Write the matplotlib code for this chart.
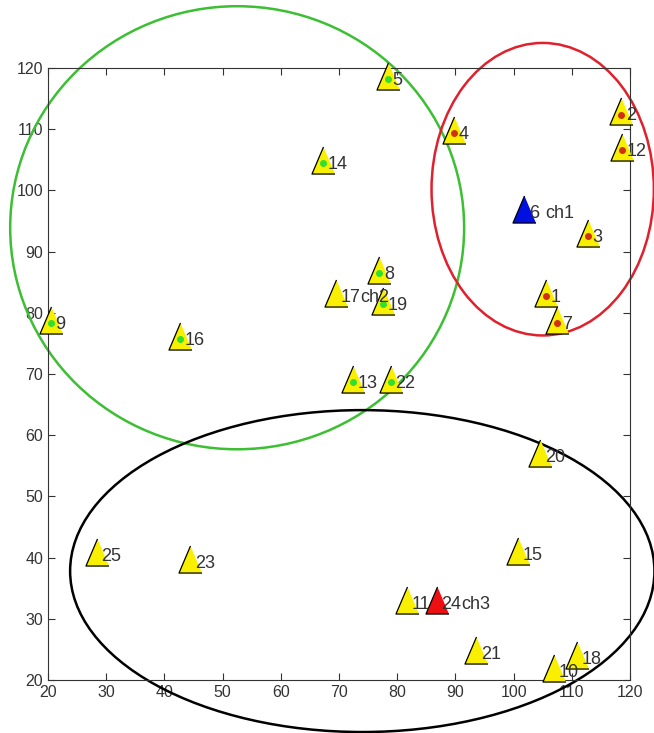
import numpy as np
import matplotlib
matplotlib.use("Agg")
import matplotlib.pyplot as plt
from matplotlib.patches import Ellipse

# node positions
node_id = list(range(1, 26))
node_x = [105.5, 118.5, 112.8, 89.8, 78.4, 101.8, 107.5, 76.9, 20.5, 107.0,
          81.6, 118.6, 72.4, 67.2, 100.8, 42.6, 69.5, 110.9, 77.6, 104.6,
          93.6, 78.9, 44.4, 86.8, 28.4]
node_y = [83.2, 112.9, 93.0, 109.9, 118.7, 97.0, 78.8, 87.0, 78.8, 22.0,
          33.1, 107.1, 69.2, 105.0, 41.1, 76.2, 83.2, 24.1, 81.9, 57.1,
          24.9, 69.2, 39.8, 33.1, 40.9]
# small dot inside the triangle: 'r', 'g' or None
dot = [None] * 25
for i in [1, 2, 3, 4, 7, 12]:
    dot[i - 1] = 'r'
for i in [5, 8, 9, 13, 14, 16, 19, 22]:
    dot[i - 1] = 'g'

# cluster heads: node -> (label, colour, label offset)
heads = {6: ('ch1', '#0010e0', 3.6), 17: ('ch2', '#f8f000', 4.2), 24: ('ch3', '#ee1010', 4.2)}

# cluster boundaries: centre x, centre y, width, height
ell_x = [52.5, 105.0, 74.0]
ell_y = [93.9, 100.2, 37.8]
ell_w = [78.0, 38.2, 100.4]
ell_h = [72.4, 47.8, 52.6]
ell_c = ['#3cbf32', '#e0202c', 'black']

fig = plt.figure(figsize=(6.54, 7.33), dpi=100)
ax = fig.add_axes([0.0734, 0.0723, 0.8899, 0.8349])

tri = [(0, 1), (-0.85, -1), (0.85, -1)]

for k in range(25):
    n = node_id[k]
    fc = '#f8f000'
    if n in heads:
        fc = heads[n][1]
    ax.plot(node_x[k], node_y[k], marker=tri, markersize=19.5, markerfacecolor=fc,
            markeredgecolor='black', markeredgewidth=0.9, linestyle='none',
            clip_on=False, zorder=3)
    if dot[k] == 'r':
        ax.plot(node_x[k], node_y[k] - 0.5, 'o', markersize=4, color='#d03010', zorder=4)
    elif dot[k] == 'g':
        ax.plot(node_x[k], node_y[k] - 0.5, 'o', markersize=4, color='#30e030', zorder=4)
    ax.text(node_x[k] + 0.8, node_y[k] - 0.7, str(n), fontsize=13, color='#333333',
            va='center', ha='left', family='Liberation Sans', zorder=5)
    if n in heads:
        ax.text(node_x[k] + heads[n][2], node_y[k] - 0.7, heads[n][0], fontsize=13,
                color='#333333', va='center', ha='left', family='Liberation Sans', zorder=5)

for cx, cy, w, h, c in zip(ell_x, ell_y, ell_w, ell_h, ell_c):
    ax.add_patch(Ellipse((cx, cy), w, h, fill=False, edgecolor=c, linewidth=1.8,
                         clip_on=False, zorder=2))

ax.set_xlim(20, 120)
ax.set_ylim(20, 120)
ax.set_xticks(np.arange(20, 121, 10))
ax.set_yticks(np.arange(20, 121, 10))
ax.tick_params(direction='in', top=True, right=True, length=5, labelsize=11.5,
               colors='#333333')
for lab in ax.get_xticklabels() + ax.get_yticklabels():
    lab.set_family('Liberation Sans')
for s in ax.spines.values():
    s.set_color('#333333')

fig.savefig('out.png', dpi=100)
